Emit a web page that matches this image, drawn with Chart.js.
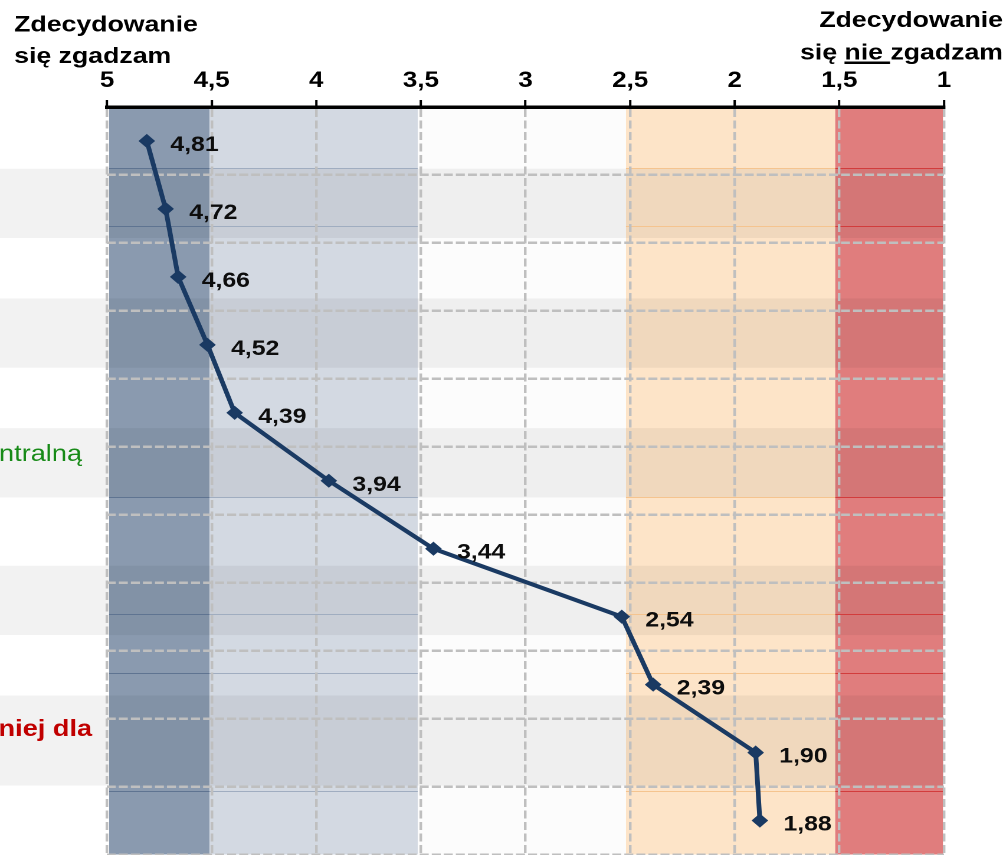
<!DOCTYPE html>
<html lang="pl">
<head>
<meta charset="utf-8">
<title>Ocena stwierdzeń</title>
<script src="https://cdn.jsdelivr.net/npm/chart.js@4.4.1/dist/chart.umd.min.js"></script>
<style>
  html, body { margin: 0; padding: 0; width: 1008px; height: 855px; overflow: hidden; background: #fff; }
  /* the chart is laid out narrower and widened horizontally */
  #wrap { position: absolute; left: 0; top: 0; width: 854px; height: 862px; transform: scaleX(1.18); transform-origin: 0 0; }
  canvas { display: block; }
</style>
</head>
<body>
<div id="wrap"><canvas id="chart" width="854" height="862" style="width:854px;height:862px"></canvas></div>
<script>
// ---- data ----
const categories = ['1', '2', '3', '4', '5', '6', '7', '8', '9', '10', '11'];
const scores = [4.81, 4.72, 4.66, 4.52, 4.39, 3.94, 3.44, 2.54, 2.39, 1.90, 1.88];
const scaleTicks = [5, 4.5, 4, 3.5, 3, 2.5, 2, 1.5, 1];
const agreeTitle = ['Zdecydowanie', 'się zgadzam'];
const disagreeTitle = ['Zdecydowanie', 'się nie zgadzam'];
const sideNoteTexts = ['ntralną', 'niej dla'];

// ---- background zones (edges on the score axis) ----
const zoneEdges = [4.99, 4.51, 3.515, 2.52, 1.52, 1.005];
const zoneFills = ['#8a9aaf', '#d3d9e2', '#fcfcfc', '#fde4c8', '#e07d7d'];
const zoneRuleColors = ['#5f7491', '#a0adc0', null, '#f5c48f', '#d23c3c'];
// thin rules and shaded rows, in row units of the category axis
const zoneRuleRows = [0.393, 1.253, 5.245, 6.965, 7.825, 9.56];
const shadedRows = [[0.408, 1.428], [2.317, 3.337], [4.226, 5.246], [6.251, 7.271], [8.16, 9.486]];
const sideNoteRows = [4.706, 8.753];
const sideNoteRight = [69.5, 78];
const sideNoteStyles = [
  { font: '23px "Liberation Sans", Arial, sans-serif', color: '#178a17' },
  { font: 'bold 23px "Liberation Sans", Arial, sans-serif', color: '#c00000' }
];

const LINE_COLOR = '#1a3a63';
const FONT = '"Liberation Sans", Arial, sans-serif';
const fmt = v => v.toFixed(2).replace('.', ',');

const decorations = {
  id: 'decorations',
  beforeDraw(chart) {
    const { ctx, chartArea: a, scales: { x, y } } = chart;
    ctx.save();
    // coloured zones
    for (let i = 0; i < zoneFills.length; i++) {
      const x0 = x.getPixelForValue(zoneEdges[i]);
      const x1 = x.getPixelForValue(zoneEdges[i + 1]);
      ctx.fillStyle = zoneFills[i];
      ctx.fillRect(x0, a.top, x1 - x0, a.bottom - a.top);
    }
    // alternating shaded rows
    ctx.fillStyle = 'rgba(0,0,0,0.05)';
    shadedRows.forEach(([r0, r1]) => {
      const y0 = y.getPixelForValue(r0), y1 = y.getPixelForValue(r1);
      ctx.fillRect(0, y0, a.right, y1 - y0);
    });
    // thin rules inside the zones
    ctx.lineWidth = 1;
    for (let i = 0; i < zoneFills.length; i++) {
      if (!zoneRuleColors[i]) continue;
      const x0 = x.getPixelForValue(zoneEdges[i]);
      const x1 = x.getPixelForValue(zoneEdges[i + 1]);
      ctx.strokeStyle = zoneRuleColors[i];
      zoneRuleRows.forEach(r => {
        const yy = Math.round(y.getPixelForValue(r)) + 0.5;
        ctx.beginPath(); ctx.moveTo(x0, yy); ctx.lineTo(x1, yy); ctx.stroke();
      });
    }
    // row captions at the left edge
    ctx.textAlign = 'right';
    ctx.textBaseline = 'alphabetic';
    sideNoteTexts.forEach((t, i) => {
      ctx.font = sideNoteStyles[i].font;
      ctx.fillStyle = sideNoteStyles[i].color;
      ctx.fillText(t, sideNoteRight[i], y.getPixelForValue(sideNoteRows[i]));
    });
    ctx.restore();
  },
  afterDatasetsDraw(chart) {
    const { ctx } = chart;
    const meta = chart.getDatasetMeta(0);
    ctx.save();
    ctx.font = 'bold 21px ' + FONT;
    ctx.fillStyle = '#0d0d0d';
    ctx.textAlign = 'left';
    ctx.textBaseline = 'alphabetic';
    meta.data.forEach((pt, i) => {
      ctx.fillText(fmt(scores[i]), pt.x + 20, pt.y + 10);
    });
    ctx.restore();
  },
  afterDraw(chart) {
    const { ctx } = chart;
    ctx.save();
    ctx.font = 'bold 22.6px ' + FONT;
    ctx.fillStyle = '#000';
    ctx.textBaseline = 'alphabetic';
    ctx.textAlign = 'left';
    ctx.fillText(agreeTitle[0], 12, 31.5);
    ctx.fillText(agreeTitle[1], 12, 63);
    const right = 850;
    ctx.textAlign = 'right';
    ctx.fillText(disagreeTitle[0], right, 27);
    ctx.fillText(disagreeTitle[1], right, 59.5);
    // underline under "nie"
    const full = ctx.measureText(disagreeTitle[1]).width;
    const lead = ctx.measureText('się ').width;
    const word = ctx.measureText('nie').width;
    const ux = right - full + lead;
    ctx.fillRect(ux, 61.5, word + 6, 2.5);
    ctx.restore();
  }
};

new Chart(document.getElementById('chart'), {
  type: 'line',
  data: {
    labels: categories,
    datasets: [{
      data: scores,
      borderColor: LINE_COLOR,
      backgroundColor: LINE_COLOR,
      borderWidth: 4,
      pointStyle: 'rectRot',
      pointRadius: 6,
      pointBorderWidth: 1.5,
      pointBackgroundColor: LINE_COLOR,
      pointBorderColor: LINE_COLOR,
      tension: 0,
      clip: false
    }]
  },
  options: {
    indexAxis: 'y',
    responsive: false,
    devicePixelRatio: 2,
    animation: false,
    layout: { padding: { left: 0, right: 54, top: 0, bottom: 0 } },
    plugins: { legend: { display: false }, tooltip: { enabled: false } },
    scales: {
      x: {
        type: 'linear',
        position: 'top',
        min: 1, max: 5,
        reverse: true,
        afterBuildTicks(scale) { scale.ticks = scaleTicks.map(v => ({ value: v })); },
        afterFit(scale) { scale.height = 107; },
        ticks: {
          callback: v => String(v).replace('.', ','),
          font: { family: FONT, size: 22, weight: 'bold' },
          color: '#000',
          padding: 6,
          maxRotation: 0,
          autoSkip: false
        },
        grid: {
          color: '#bfbfbf',
          lineWidth: 2.2,
          drawTicks: true,
          tickLength: 7,
          tickColor: '#000',
          tickWidth: 2,
          tickBorderDash: []
        },
        border: { display: true, color: '#000', width: 3.5, dash: [8, 3.5] }
      },
      y: {
        type: 'category',
        offset: true,
        afterFit(scale) { scale.width = 90.7; },
        ticks: { display: false },
        grid: { offset: true, color: '#bfbfbf', lineWidth: 2.5, drawTicks: false },
        border: { display: false, dash: [7.6, 2.6] }
      }
    }
  },
  plugins: [decorations]
});
</script>
</body>
</html>
